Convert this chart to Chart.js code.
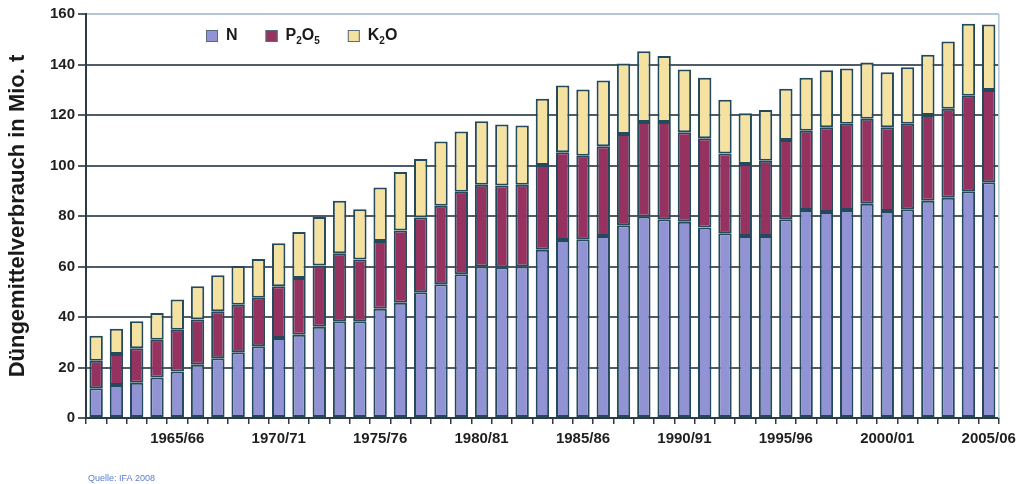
<!DOCTYPE html>
<html lang="de">
<head>
<meta charset="utf-8">
<title>Düngemittelverbrauch</title>
<script src="https://cdn.jsdelivr.net/npm/chart.js@4"></script>
<style>
  html, body { margin: 0; padding: 0; background: #fff; }
  #wrap { position: relative; width: 1022px; height: 484px; }
</style>
</head>
<body>
<div id="wrap"><canvas id="chart" width="1022" height="484"></canvas></div>
<script>
(function () {
    // Wirtschaftsjahre 1961/62 bis 2005/06
    const years = [];
    for (let y = 1961; y <= 2005; y++) years.push(y + '/' + String((y + 1) % 100).padStart(2, '0'));

    // Mio. t
    const nitrogen = [11.8, 13.1, 14.0, 16.0, 18.4, 21.1, 23.7, 26.0, 28.4, 31.7,
        33.0, 36.1, 38.3, 38.3, 43.3, 45.6, 49.8, 53.0, 56.9, 60.0,
        59.7, 60.0, 66.6, 70.5, 70.8, 72.1, 76.3, 79.8, 78.7, 77.7,
        75.4, 73.2, 72.1, 72.1, 78.7, 82.4, 81.6, 82.4, 84.9, 82.0,
        82.7, 86.0, 87.2, 89.8, 93.4];
    const phosphate = [10.9, 12.2, 13.6, 15.0, 16.6, 17.9, 18.6, 18.9, 19.2, 20.5,
        22.4, 24.3, 26.9, 24.5, 26.8, 28.7, 29.6, 31.1, 32.7, 32.4,
        32.4, 32.4, 33.6, 34.7, 33.1, 35.5, 36.2, 37.4, 38.5, 35.5,
        35.4, 31.6, 28.5, 29.8, 31.4, 31.4, 33.5, 34.1, 33.6, 33.1,
        33.8, 34.0, 35.3, 37.8, 36.5];
    const potash = [9.9, 10.0, 10.7, 10.6, 11.9, 13.2, 14.2, 15.3, 15.4, 17.0,
        18.3, 19.2, 20.8, 19.9, 21.2, 23.1, 23.2, 25.4, 23.9, 25.1,
        24.1, 23.4, 26.2, 26.5, 26.2, 26.1, 27.9, 28.0, 26.2, 24.8,
        24.0, 21.2, 20.1, 20.1, 20.3, 21.0, 22.6, 21.9, 22.3, 21.8,
        22.4, 23.9, 26.6, 28.5, 25.9];

    const yTicks = [0, 20, 40, 60, 80, 100, 120, 140, 160];
    const labelEvery = 5;
    const firstLabel = 4; // 1965/66

    const outline = '#24495a';
    const sub = { '₂': '2', '₅': '5' };

    function drawLabel(ctx, text, x, y) {
        let cx = x;
        for (const ch of text) {
            if (sub[ch]) {
                ctx.font = 'bold 10px "Liberation Sans", Arial, sans-serif';
                ctx.fillText(sub[ch], cx, y + 5);
                cx += ctx.measureText(sub[ch]).width;
            } else {
                ctx.font = 'bold 16px "Liberation Sans", Arial, sans-serif';
                ctx.fillText(ch, cx, y);
                cx += ctx.measureText(ch).width;
            }
        }
        return cx - x;
    }

    const decorations = {
        id: 'decorations',
        afterDraw(chart) {
            const ctx = chart.ctx;
            const area = chart.chartArea;
            ctx.save();
            // light frame on the right
            ctx.strokeStyle = '#b4c6d2';
            ctx.lineWidth = 1.5;
            ctx.beginPath();
            ctx.moveTo(area.right, area.top);
            ctx.lineTo(area.right, area.bottom);
            ctx.stroke();

            // legend inside the plot
            let x = 206;
            const y = 36;
            ctx.textBaseline = 'middle';
            chart.data.datasets.forEach((ds) => {
                ctx.fillStyle = ds.backgroundColor;
                ctx.fillRect(x, y - 6, 12, 12);
                ctx.strokeStyle = '#5a6a78';
                ctx.lineWidth = 1;
                ctx.strokeRect(x + 0.5, y - 5.5, 11, 11);
                ctx.fillStyle = '#1a1a1a';
                const w = drawLabel(ctx, ds.label, x + 20, y);
                x += 20 + w + 28;
            });

            // source
            ctx.font = '9px "Liberation Sans", Arial, sans-serif';
            ctx.fillStyle = '#5a7ccc';
            ctx.textBaseline = 'alphabetic';
            ctx.fillText('Quelle: IFA 2008', 88, 481);
            ctx.restore();
        }
    };

    const common = {
        stack: 'total',
        borderColor: outline,
        borderWidth: 2,
        borderSkipped: false,
        barPercentage: 0.66,
        categoryPercentage: 1
    };

    new Chart(document.getElementById('chart'), {
        type: 'bar',
        data: {
            labels: years,
            datasets: [
                Object.assign({ label: 'N', data: nitrogen, backgroundColor: '#9193d4' }, common),
                Object.assign({ label: 'P₂O₅', data: phosphate, backgroundColor: '#95325f' }, common),
                Object.assign({ label: 'K₂O', data: potash, backgroundColor: '#f6e2a0' }, common)
            ]
        },
        options: {
            responsive: false,
            animation: false,
            layout: { padding: { left: 4, right: 17, top: 14, bottom: 28 } },
            plugins: {
                legend: { display: false },
                tooltip: { enabled: false }
            },
            scales: {
                x: {
                    stacked: true,
                    border: { color: '#2d3a44', width: 2 },
                    grid: { offset: true, drawOnChartArea: false, drawTicks: true, tickLength: 6, color: '#2d3a44', lineWidth: 1.5 },
                    ticks: {
                        autoSkip: false,
                        maxRotation: 0,
                        color: '#1f1f1f',
                        padding: 6,
                        font: { family: '"Liberation Sans", Arial, sans-serif', size: 15, weight: 'bold' },
                        callback: (value, index) => (index >= firstLabel && (index - firstLabel) % labelEvery === 0) ? years[index] : ''
                    },
                    afterFit: (scale) => { scale.height = 38; }
                },
                y: {
                    stacked: true,
                    min: yTicks[0],
                    max: yTicks[yTicks.length - 1],
                    afterBuildTicks: (scale) => { scale.ticks = yTicks.map((v) => ({ value: v })); },
                    border: { color: '#2d3a44', width: 2 },
                    grid: {
                        color: (c) => (c.tick && c.tick.value === 160) ? '#b4c6d2' : '#4f5d68',
                        lineWidth: 2,
                        tickLength: 8,
                        tickColor: '#4f5d68'
                    },
                    ticks: {
                        color: '#1f1f1f',
                        padding: 3,
                        font: { family: '"Liberation Sans", Arial, sans-serif', size: 15, weight: 'bold' }
                    },
                    title: {
                        display: true,
                        text: 'Düngemittelverbrauch in Mio. t',
                        color: '#1a1a1a',
                        padding: { top: 1, bottom: 4 },
                        font: { family: '"Liberation Sans", Arial, sans-serif', size: 22, weight: 'bold' }
                    },
                    afterFit: (scale) => { scale.width = 82; }
                }
            }
        },
        plugins: [decorations]
    });
})();
</script>
</body>
</html>
